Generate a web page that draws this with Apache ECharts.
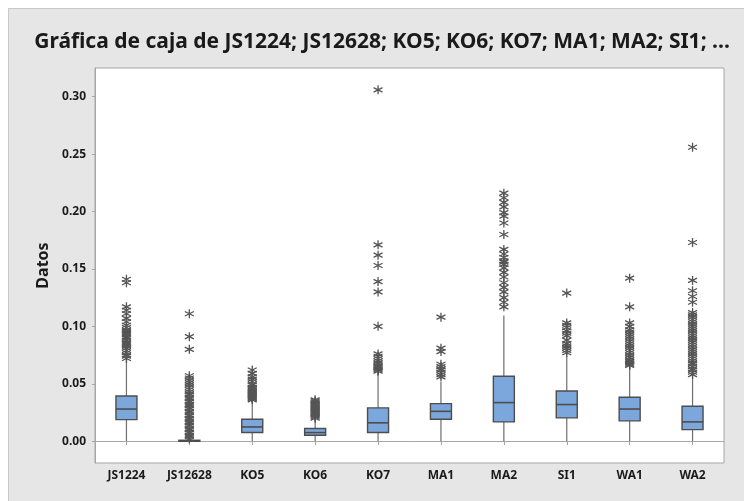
<!DOCTYPE html>
<html>
<head>
<meta charset="utf-8">
<script src="https://cdn.jsdelivr.net/npm/echarts@6/dist/echarts.min.js"></script>
<style>
html,body{margin:0;padding:0;background:#fff;}
#frame{position:absolute;left:8px;top:8px;width:740px;height:497px;background:#e6e6e6;border-left:1px solid #c8c8c8;border-top:1px solid #c8c8c8;}
#chart{position:absolute;left:0;top:0;width:744px;height:501px;}
</style>
</head>
<body>
<div id="frame"></div>
<div id="chart"></div>
<script>
// ---- data ----
const categories = ['JS1224','JS12628','KO5','KO6','KO7','MA1','MA2','SI1','WA1','WA2'];
// [min, Q1, median, Q3, whisker max]
const boxStats = [
  [0, 0.0188, 0.0280, 0.0394, 0.0700],
  [0, 0, 0, 0.0008, 0.0010],
  [0, 0.0075, 0.0124, 0.0191, 0.0350],
  [0, 0.0052, 0.0075, 0.0110, 0.0190],
  [0, 0.0075, 0.0160, 0.0290, 0.0600],
  [0, 0.0191, 0.0260, 0.0327, 0.0516],
  [0, 0.0168, 0.0336, 0.0565, 0.1095],
  [0, 0.0203, 0.0319, 0.0437, 0.0740],
  [0, 0.0177, 0.0280, 0.0382, 0.0646],
  [0, 0.0101, 0.0168, 0.0304, 0.0559]
];
const outJS1224 = [0.072,0.074,0.075,0.077,0.079,0.081,0.083,0.084,0.085,0.086,0.088,0.090,0.091,0.093,0.094,0.095,0.096,0.097,0.099,0.101,0.104,0.107,0.111,0.114,0.117,0.138,0.141];
const outJS12628 = [0.002,0.004,0.005,0.007,0.008,0.010,0.011,0.013,0.014,0.016,0.017,0.019,0.020,0.022,0.023,0.025,0.026,0.028,0.029,0.031,0.032,0.034,0.035,0.037,0.038,0.040,0.041,0.043,0.045,0.047,0.049,0.051,0.053,0.055,0.057,0.080,0.091,0.111];
const outKO5 = [0.036,0.037,0.038,0.039,0.040,0.041,0.042,0.043,0.044,0.045,0.046,0.047,0.049,0.050,0.052,0.054,0.056,0.059,0.062];
const outKO6 = [0.020,0.021,0.022,0.023,0.024,0.025,0.026,0.027,0.028,0.029,0.030,0.031,0.032,0.033,0.034,0.035,0.036];
const outKO7 = [0.061,0.062,0.063,0.064,0.065,0.066,0.068,0.070,0.072,0.074,0.076,0.100,0.130,0.139,0.153,0.162,0.171,0.306];
const outMA1 = [0.056,0.058,0.060,0.062,0.063,0.065,0.067,0.078,0.081,0.108];
const outMA2 = [0.117,0.121,0.125,0.130,0.134,0.138,0.143,0.147,0.151,0.154,0.156,0.157,0.160,0.163,0.167,0.180,0.190,0.196,0.199,0.204,0.208,0.212,0.216];
const outSI1 = [0.077,0.079,0.081,0.083,0.085,0.088,0.092,0.094,0.096,0.099,0.101,0.103,0.129];
const outWA1 = [0.066,0.067,0.068,0.069,0.070,0.071,0.073,0.075,0.077,0.079,0.081,0.083,0.085,0.087,0.089,0.091,0.093,0.095,0.097,0.100,0.103,0.117,0.142];
const outWA2 = [0.058,0.060,0.062,0.063,0.065,0.067,0.068,0.070,0.072,0.074,0.076,0.078,0.080,0.082,0.084,0.086,0.088,0.090,0.092,0.094,0.096,0.098,0.100,0.102,0.104,0.106,0.108,0.110,0.112,0.121,0.126,0.131,0.140,0.173,0.256];
const outliers = [outJS1224,outJS12628,outKO5,outKO6,outKO7,outMA1,outMA2,outSI1,outWA1,outWA2];
const yTicks = [0,0.05,0.10,0.15,0.20,0.25,0.30];
const titleText = 'Gráfica de caja de JS1224; JS12628; KO5; KO6; KO7; MA1; MA2; SI1; ...';

// ---- build ----
const boxData = boxStats.map((s,i)=>[i].concat(s));
const outData = [];
outliers.forEach((arr,i)=>arr.forEach(v=>outData.push([i,v])));

const FONT = '"Noto Sans", "Open Sans", sans-serif';
const chart = echarts.init(document.getElementById('chart'), null, {renderer:'canvas'});
chart.setOption({
  backgroundColor: 'transparent',
  animation: false,
  graphic: [{
    type:'text', x: 382, y: 42,
    style:{text:titleText, textAlign:'center', textVerticalAlign:'middle',
      font:'bold 21px ' + FONT, fill:'#1a1a1a'}
  }],
  grid: {left:95, top:68, right:20, bottom:38, show:true, backgroundColor:'#ffffff', borderColor:'#a6a6a6', borderWidth:1},
  xAxis: {
    type:'category', data: categories, boundaryGap:true,
    axisLine:{show:true, lineStyle:{color:'#a6a6a6'}},
    axisTick:{show:true, alignWithLabel:true, length:4, inside:false, lineStyle:{color:'#a6a6a6'}},
    axisLabel:{color:'#1a1a1a', fontWeight:'bold', fontSize:12, fontFamily:FONT, margin:7},
    splitLine:{show:false}
  },
  yAxis: {
    type:'value', min:-0.019, max:0.325,
    name:'Datos', nameLocation:'middle', nameGap:44, nameRotate:90,
    nameTextStyle:{color:'#1a1a1a', fontWeight:'bold', fontSize:16, fontFamily:FONT},
    axisLine:{show:true, lineStyle:{color:'#a6a6a6'}},
    axisTick:{show:true, length:3, customValues:yTicks, lineStyle:{color:'#a6a6a6'}},
    axisLabel:{color:'#1a1a1a', fontWeight:'bold', fontSize:12, fontFamily:FONT, margin:9,
      customValues:yTicks, formatter:v=>v.toFixed(2)},
    splitLine:{show:false}
  },
  series: [
    {
      type:'custom', data: boxData,
      encode:{x:0, y:[1,2,3,4,5]},
      renderItem:function(params, api){
        const i = api.value(0);
        const pMin = api.coord([i, api.value(1)]);
        const pQ1 = api.coord([i, api.value(2)]);
        const pMed = api.coord([i, api.value(3)]);
        const pQ3 = api.coord([i, api.value(4)]);
        const pMax = api.coord([i, api.value(5)]);
        const x = pQ1[0], hw = 10.5;
        return {type:'group', children:[
          {type:'line', shape:{x1:x,y1:pMin[1],x2:x,y2:pQ1[1]}, style:{stroke:'#6e6e6e', lineWidth:1.2}},
          {type:'line', shape:{x1:x,y1:pQ3[1],x2:x,y2:pMax[1]}, style:{stroke:'#6e6e6e', lineWidth:1.2}},
          {type:'rect', shape:{x:x-hw, y:pQ3[1], width:hw*2, height:Math.max(pQ1[1]-pQ3[1],0.5)},
            style:{fill:'#7ba7dc', stroke:'#4d4d4d', lineWidth:1.4}},
          {type:'line', shape:{x1:x-hw,y1:pMed[1],x2:x+hw,y2:pMed[1]}, style:{stroke:'#4d4d4d', lineWidth:1.6}}
        ]};
      },
      z: 3
    },
    {
      type:'scatter', data: outData,
      symbol:'path://M5 0 L5 10 M0.67 2.5 L9.33 7.5 M0.67 7.5 L9.33 2.5',
      symbolSize:9,
      itemStyle:{color:'rgba(0,0,0,0)', borderColor:'#555555', borderWidth:1.3, opacity:1},
      z: 4
    }
  ]
});
</script>
</body>
</html>
